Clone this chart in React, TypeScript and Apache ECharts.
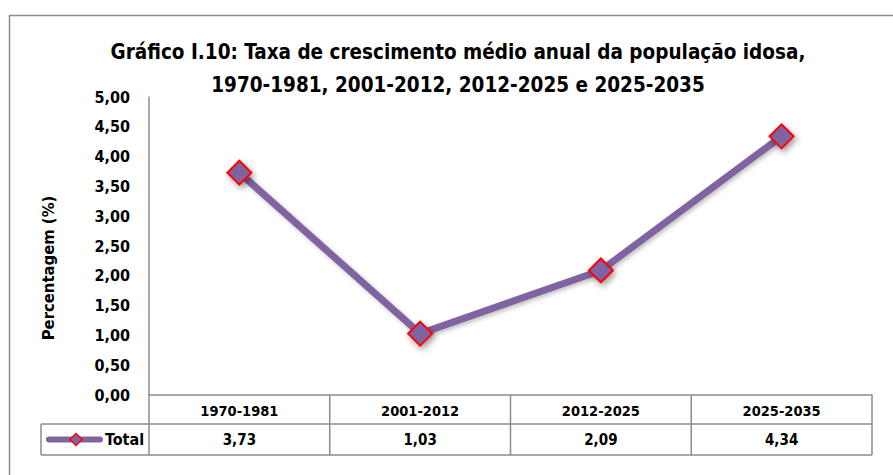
import React, { useEffect, useRef } from "react";
import * as echarts from "echarts";

const titleLines = [
  "Gráfico I.10: Taxa de crescimento médio anual da população idosa,",
  "1970-1981, 2001-2012, 2012-2025 e 2025-2035",
];
const categories = ["1970-1981", "2001-2012", "2012-2025", "2025-2035"];
const totalValues = [3.73, 1.03, 2.09, 4.34];
const seriesName = "Total";
const yAxisName = "Percentagem (%)";
const yMin = 0;
const yMax = 5;
const yInterval = 0.5;

const FONT = "'Liberation Sans Narrow', 'Arial Narrow', 'DejaVu Sans Condensed', Arial, sans-serif";
const PURPLE = "#8064A2";
const GRID_COLOR = "#8c8c8c";

const fmt = (v: number) => v.toFixed(2).replace(".", ",");

export default function App() {
  const ref = useRef<HTMLDivElement>(null);
  useEffect(() => {
    document.body.style.margin = "0";
    const chart = echarts.init(ref.current!, null, { renderer: "svg" });
    const gridLeft = 149;
    const gridRight = 872;
    const gridTop = 97;
    const gridBottom = 395;
    const row1 = 424;
    const row2 = 455;
    const legendLeft = 41;
    chart.setOption({
      animation: false,
      backgroundColor: "#ffffff",
      title: {
        text: titleLines.join("\n"),
        left: 453,
        top: 30,
        textAlign: "center",
        textStyle: { fontFamily: FONT, fontWeight: "bold", fontSize: 20.5, color: "#000", lineHeight: 33 },
      },
      grid: { left: gridLeft, right: 893 - gridRight, top: gridTop, bottom: 475 - gridBottom },
      xAxis: {
        type: "category",
        data: categories,
        axisLine: { show: true, lineStyle: { color: GRID_COLOR, width: 1.5 } },
        axisTick: { show: false },
        axisLabel: { fontFamily: FONT, fontWeight: "bold", fontSize: 14.5, color: "#000", margin: 8 },
        splitLine: { show: false },
      },
      yAxis: {
        type: "value",
        min: yMin,
        max: yMax,
        interval: yInterval,
        axisLine: { show: true, lineStyle: { color: GRID_COLOR, width: 1.5 } },
        axisTick: { show: false },
        splitLine: { show: false },
        axisLabel: {
          fontFamily: FONT,
          fontWeight: "bold",
          fontSize: 16,
          color: "#000",
          margin: 19,
          formatter: (v: number) => fmt(v),
        },
      },
      series: [
        {
          name: seriesName,
          type: "line",
          data: totalValues,
          symbol: "diamond",
          symbolSize: 24,
          lineStyle: { color: PURPLE, width: 7, shadowColor: "rgba(0,0,0,0.25)", shadowBlur: 4, shadowOffsetX: 2, shadowOffsetY: 2 },
          itemStyle: {
            color: PURPLE,
            borderColor: "#ff0000",
            borderWidth: 2,
            shadowColor: "rgba(0,0,0,0.4)",
            shadowBlur: 6,
            shadowOffsetX: 2,
            shadowOffsetY: 3,
          },
          z: 3,
        },
      ],
    });

    const elements: any[] = [];
    elements.push({
      type: "rect",
      shape: { x: 9.5, y: 15.5, width: 900, height: 480 },
      style: { fill: "none", stroke: GRID_COLOR, lineWidth: 1.5 },
      silent: true,
    });
    elements.push({
      type: "text",
      x: 48,
      y: 268,
      rotation: Math.PI / 2,
      style: {
        text: yAxisName,
        fontFamily: FONT,
        fontWeight: "bold",
        fontSize: 16.5,
        fill: "#000",
        align: "center",
        verticalAlign: "middle",
      },
    });
    const lineStyle = { stroke: GRID_COLOR, lineWidth: 1.5 };
    elements.push({ type: "line", shape: { x1: gridLeft, y1: row1, x2: gridRight, y2: row1 }, style: lineStyle });
    elements.push({ type: "line", shape: { x1: legendLeft, y1: row1, x2: gridLeft, y2: row1 }, style: lineStyle });
    elements.push({ type: "line", shape: { x1: legendLeft, y1: row2, x2: gridRight, y2: row2 }, style: lineStyle });
    elements.push({ type: "line", shape: { x1: legendLeft, y1: row1, x2: legendLeft, y2: row2 }, style: lineStyle });
    elements.push({ type: "line", shape: { x1: gridLeft, y1: gridBottom, x2: gridLeft, y2: row2 }, style: lineStyle });
    elements.push({ type: "line", shape: { x1: gridRight, y1: gridBottom, x2: gridRight, y2: row2 }, style: lineStyle });
    const step = (gridRight - gridLeft) / categories.length;
    for (let i = 1; i < categories.length; i++) {
      const x = gridLeft + step * i;
      elements.push({ type: "line", shape: { x1: x, y1: gridBottom, x2: x, y2: row2 }, style: lineStyle });
    }
    totalValues.forEach((v, i) => {
      const x = chart.convertToPixel({ xAxisIndex: 0 }, categories[i]) as number;
      elements.push({
        type: "text",
        x,
        y: (row1 + row2) / 2,
        style: {
          text: fmt(v),
          fontFamily: FONT,
          fontWeight: "bold",
          fontSize: 15,
          fill: "#000",
          align: "center",
          verticalAlign: "middle",
        },
      });
    });
    const ly = (row1 + row2) / 2;
    elements.push({
      type: "line",
      shape: { x1: 49, y1: ly, x2: 100, y2: ly },
      style: { stroke: PURPLE, lineWidth: 6, lineCap: "round" },
    });
    elements.push({
      type: "polygon",
      shape: { points: [[76, ly - 6], [82, ly], [76, ly + 6], [70, ly]] },
      style: { fill: PURPLE, stroke: "#ff0000", lineWidth: 1.5 },
    });
    elements.push({
      type: "text",
      x: 105,
      y: ly,
      style: {
        text: seriesName,
        fontFamily: FONT,
        fontWeight: "bold",
        fontSize: 16,
        fill: "#000",
        align: "left",
        verticalAlign: "middle",
      },
    });
    chart.setOption({ graphic: { elements } });
    return () => chart.dispose();
  }, []);
  return <div ref={ref} style={{ position: "absolute", left: 0, top: 0, width: 893, height: 475 }} />;
}
